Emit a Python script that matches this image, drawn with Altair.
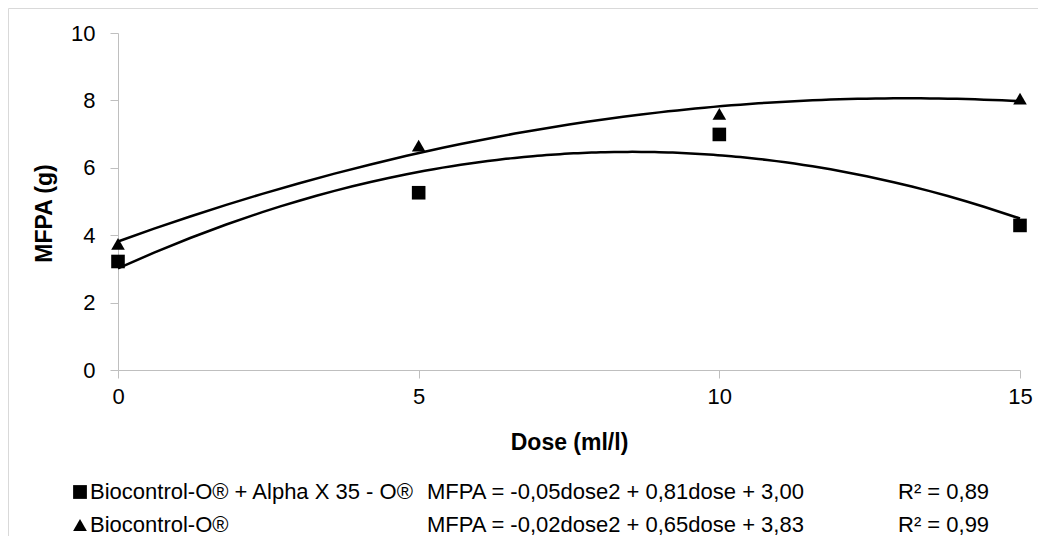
import altair as alt
import pandas as pd

# ---- data ----
doses = [0, 5, 10, 15]
series_names = ["Biocontrol-O® + Alpha X 35 - O®", "Biocontrol-O®"]
mfpa_alpha = [3.22, 5.26, 6.99, 4.29]      # squares
mfpa_bio = [3.74, 6.66, 7.60, 8.05]        # triangles
equations = ["MFPA = -0,05dose2 + 0,81dose + 3,00", "MFPA = -0,02dose2 + 0,65dose + 3,83"]
r2_labels = ["R² = 0,89", "R² = 0,99"]
shapes = ["square", "triangle-up"]
x_ticks = [0, 5, 10, 15]
y_ticks = [0, 2, 4, 6, 8, 10]

W, H = 902, 337
FONT = "Liberation Sans"

df = pd.DataFrame({
    "dose": doses * 2,
    "mfpa": mfpa_alpha + mfpa_bio,
    "series": [series_names[0]] * 4 + [series_names[1]] * 4,
})

x_enc = alt.X("dose:Q", scale=alt.Scale(domain=[0, 15], nice=False),
              axis=alt.Axis(values=x_ticks, format="d", labelFlush=False, title="Dose (ml/l)", grid=False,
                            domainColor="#bfbfbf", tickColor="#bfbfbf", tickSize=8,
                            labelFontSize=22, labelColor="#000", labelPadding=8,
                            titleFontSize=23, titleFontWeight="bold", titleColor="#000",
                            titleX=W / 2, titleY=72, titleBaseline="middle"))
y_enc = alt.Y("mfpa:Q", scale=alt.Scale(domain=[0, 10], nice=False),
              axis=alt.Axis(values=y_ticks, format="d", labelFlush=False, title="MFPA (g)", grid=False,
                            domainColor="#bfbfbf", tickColor="#bfbfbf", tickSize=8,
                            labelFontSize=22, labelColor="#000", labelPadding=15,
                            titleFontSize=23, titleFontWeight="bold", titleColor="#000",
                            titleX=-74, titleY=180, titleAngle=270,
                            titleAlign="center", titleBaseline="middle"))

shape_enc = alt.Shape("series:N", scale=alt.Scale(domain=series_names, range=shapes), legend=None)

frame = alt.Chart(pd.DataFrame({"k": [0]})).mark_rect(
    filled=False, stroke="#d9d9d9", strokeWidth=1
).encode(x=alt.value(-109.5), x2=alt.value(1100), y=alt.value(-24.5), y2=alt.value(700))

points = alt.Chart(df).mark_point(filled=True, color="black", opacity=1, size=185).encode(
    x=x_enc, y=y_enc, shape=shape_enc
)

fits = alt.Chart(df).transform_regression(
    "dose", "mfpa", groupby=["series"], method="poly", order=2, extent=[0, 15]
).mark_line(color="black", strokeWidth=2.5).encode(
    x="dose:Q", y="mfpa:Q", detail="series:N"
)

leg_layers = []
row_y = [459, 492]
for i in range(2):
    ldf = pd.DataFrame({"name": [series_names[i]], "eq": [equations[i]], "r2": [r2_labels[i]]})
    base = alt.Chart(ldf)
    leg_layers.append(base.mark_point(filled=True, color="black", opacity=1, size=190, shape=shapes[i])
                      .encode(x=alt.value(-38), y=alt.value(row_y[i])))
    for field, xpos in (("name", -28), ("eq", 309), ("r2", 780)):
        leg_layers.append(base.mark_text(align="left", baseline="middle", fontSize=22, font=FONT, color="black")
                          .encode(text=f"{field}:N", x=alt.value(xpos), y=alt.value(row_y[i])))

chart = alt.layer(frame, fits, points, *leg_layers).properties(
    width=W, height=H,
    autosize=alt.AutoSizeParams(type="none"),
    padding={"left": 110, "top": 25, "right": 18, "bottom": 166},
    background="white",
).configure(font=FONT).configure_view(stroke=None)

chart.save("out.html", embed_options={"renderer": "svg", "actions": False})
